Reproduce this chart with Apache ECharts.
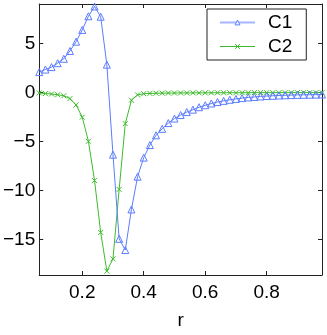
<!DOCTYPE html>
<html lang="en">
<head>
    <meta charset="UTF-8">
    <title>C1 / C2</title>
    <script src="https://cdn.jsdelivr.net/npm/echarts@6/dist/echarts.min.js"></script>
    <style>
        html, body { margin: 0; padding: 0; background: #fff; }
        #main { width: 327px; height: 335px; }
    </style>
</head>
<body>
<div id="main"></div>

<script>
    // r values (x axis)
    var rList = [0.06, 0.08, 0.10, 0.12, 0.14, 0.16, 0.18, 0.20, 0.22, 0.24,
        0.26, 0.28, 0.30, 0.32, 0.34, 0.36, 0.38, 0.40, 0.42, 0.44,
        0.46, 0.48, 0.50, 0.52, 0.54, 0.56, 0.58, 0.60, 0.62, 0.64,
        0.66, 0.68, 0.70, 0.72, 0.74, 0.76, 0.78, 0.80, 0.82, 0.84,
        0.86, 0.88, 0.90, 0.92, 0.94, 0.96, 0.98];

    // C1 - blue triangles
    var c1 = [2.09, 2.35, 2.6, 3.0, 3.45, 4.25, 5.2, 6.4, 7.8, 8.8,
        7.75, 2.85, -6.35, -14.95, -16.1, -11.95, -8.6, -6.65, -5.37, -4.37,
        -3.71, -3.12, -2.66, -2.3, -2.0, -1.75, -1.5, -1.3, -1.12, -0.97,
        -0.85, -0.74, -0.65, -0.57, -0.5, -0.45, -0.4, -0.36, -0.33, -0.3,
        -0.28, -0.26, -0.24, -0.23, -0.22, -0.21, -0.2];

    // C2 - green crosses
    var c2 = [-0.04, -0.1, -0.15, -0.22, -0.33, -0.62, -1.27, -2.52, -4.98, -9.0,
        -14.3, -18.25, -17.0, -9.9, -3.18, -0.78, -0.24, -0.12, -0.09, -0.07,
        -0.06, -0.05, -0.05, -0.04, -0.04, -0.03, -0.03, -0.03, -0.03, -0.02,
        -0.02, -0.02, -0.02, -0.02, -0.02, -0.01, -0.01, -0.01, -0.01, -0.01,
        -0.01, -0.01, -0.01, -0.01, -0.01, -0.01, -0.01];

    var xTicks = [0.2, 0.4, 0.6, 0.8];
    var yTicks = [-15, -10, -5, 0, 5];

    var blue = '#5b7cff';
    var green = '#3cbb2a';
    var font = 'Liberation Sans';

    var myChart = echarts.init(document.getElementById('main'));

    var d1 = rList.map(function (r, i) { return [r, c1[i]]; });
    var d2 = rList.map(function (r, i) { return [r, c2[i]]; });

    var boxLine = { show: true, onZero: false, lineStyle: { color: '#222', width: 1 } };

    var option = {
        animation: false,
        grid: { left: 39, right: 5, top: 4, bottom: 47 },
        legend: {
            orient: 'vertical',
            left: 207,
            top: 9,
            padding: [4, 14, 4, 12],
            itemGap: 5,
            itemWidth: 35,
            itemHeight: 6,
            backgroundColor: '#fff',
            borderColor: '#222',
            borderWidth: 1,
            borderRadius: 0,
            textStyle: { fontSize: 19, fontFamily: font, color: '#000', padding: [0, 0, 0, 8] },
            data: [
                { name: 'C1', itemStyle: { color: '#fff', borderColor: blue, borderWidth: 1 }, lineStyle: { color: '#a8b6ff', width: 2 } },
                { name: 'C2', itemStyle: { color: '#fff', borderColor: green, borderWidth: 1 }, lineStyle: { color: green, width: 1 } }
            ]
        },
        xAxis: [
            {
                type: 'value',
                min: 0.06,
                max: 0.98,
                name: 'r',
                nameLocation: 'middle',
                nameGap: 36,
                nameTextStyle: { fontSize: 19, fontFamily: font, color: '#000' },
                axisLine: boxLine,
                axisTick: { show: true, inside: true, length: 4, customValues: xTicks, lineStyle: { color: '#222' } },
                axisLabel: {
                    margin: 8, fontSize: 19, fontFamily: font, color: '#000',
                    customValues: xTicks,
                    formatter: function (v) { return v.toFixed(1); }
                },
                splitLine: { show: false }
            },
            {
                type: 'value',
                position: 'top',
                min: 0.06,
                max: 0.98,
                axisLine: boxLine,
                axisTick: { show: true, inside: true, length: 4, customValues: xTicks, lineStyle: { color: '#222' } },
                axisLabel: { show: false },
                splitLine: { show: false }
            }
        ],
        yAxis: [
            {
                type: 'value',
                min: -18.65,
                max: 9.05,
                axisLine: boxLine,
                axisTick: { show: true, inside: true, length: 4, customValues: yTicks, lineStyle: { color: '#222' } },
                axisLabel: {
                    margin: 4, fontSize: 19, fontFamily: font, color: '#000',
                    customValues: yTicks,
                    formatter: function (v) { return String(v).replace('-', '\u2212'); }
                },
                splitLine: { show: false }
            },
            {
                type: 'value',
                position: 'right',
                min: -18.65,
                max: 9.05,
                axisLine: boxLine,
                axisTick: { show: true, inside: true, length: 4, customValues: yTicks, lineStyle: { color: '#222' } },
                axisLabel: { show: false },
                splitLine: { show: false }
            }
        ],
        series: [
            {
                name: 'C1',
                type: 'line',
                data: d1,
                symbol: 'triangle',
                symbolSize: 7,
                lineStyle: { color: blue, width: 1 },
                itemStyle: { color: 'rgba(255,255,255,0)', borderColor: blue, borderWidth: 1 },
                z: 3
            },
            {
                name: 'C2',
                type: 'line',
                data: d2,
                symbol: 'path://M0,0L10,10M10,0L0,10',
                symbolSize: 5,
                lineStyle: { color: green, width: 1 },
                itemStyle: { color: 'rgba(255,255,255,0)', borderColor: green, borderWidth: 1 },
                z: 2
            }
        ]
    };

    myChart.setOption(option);
</script>
</body>
</html>
